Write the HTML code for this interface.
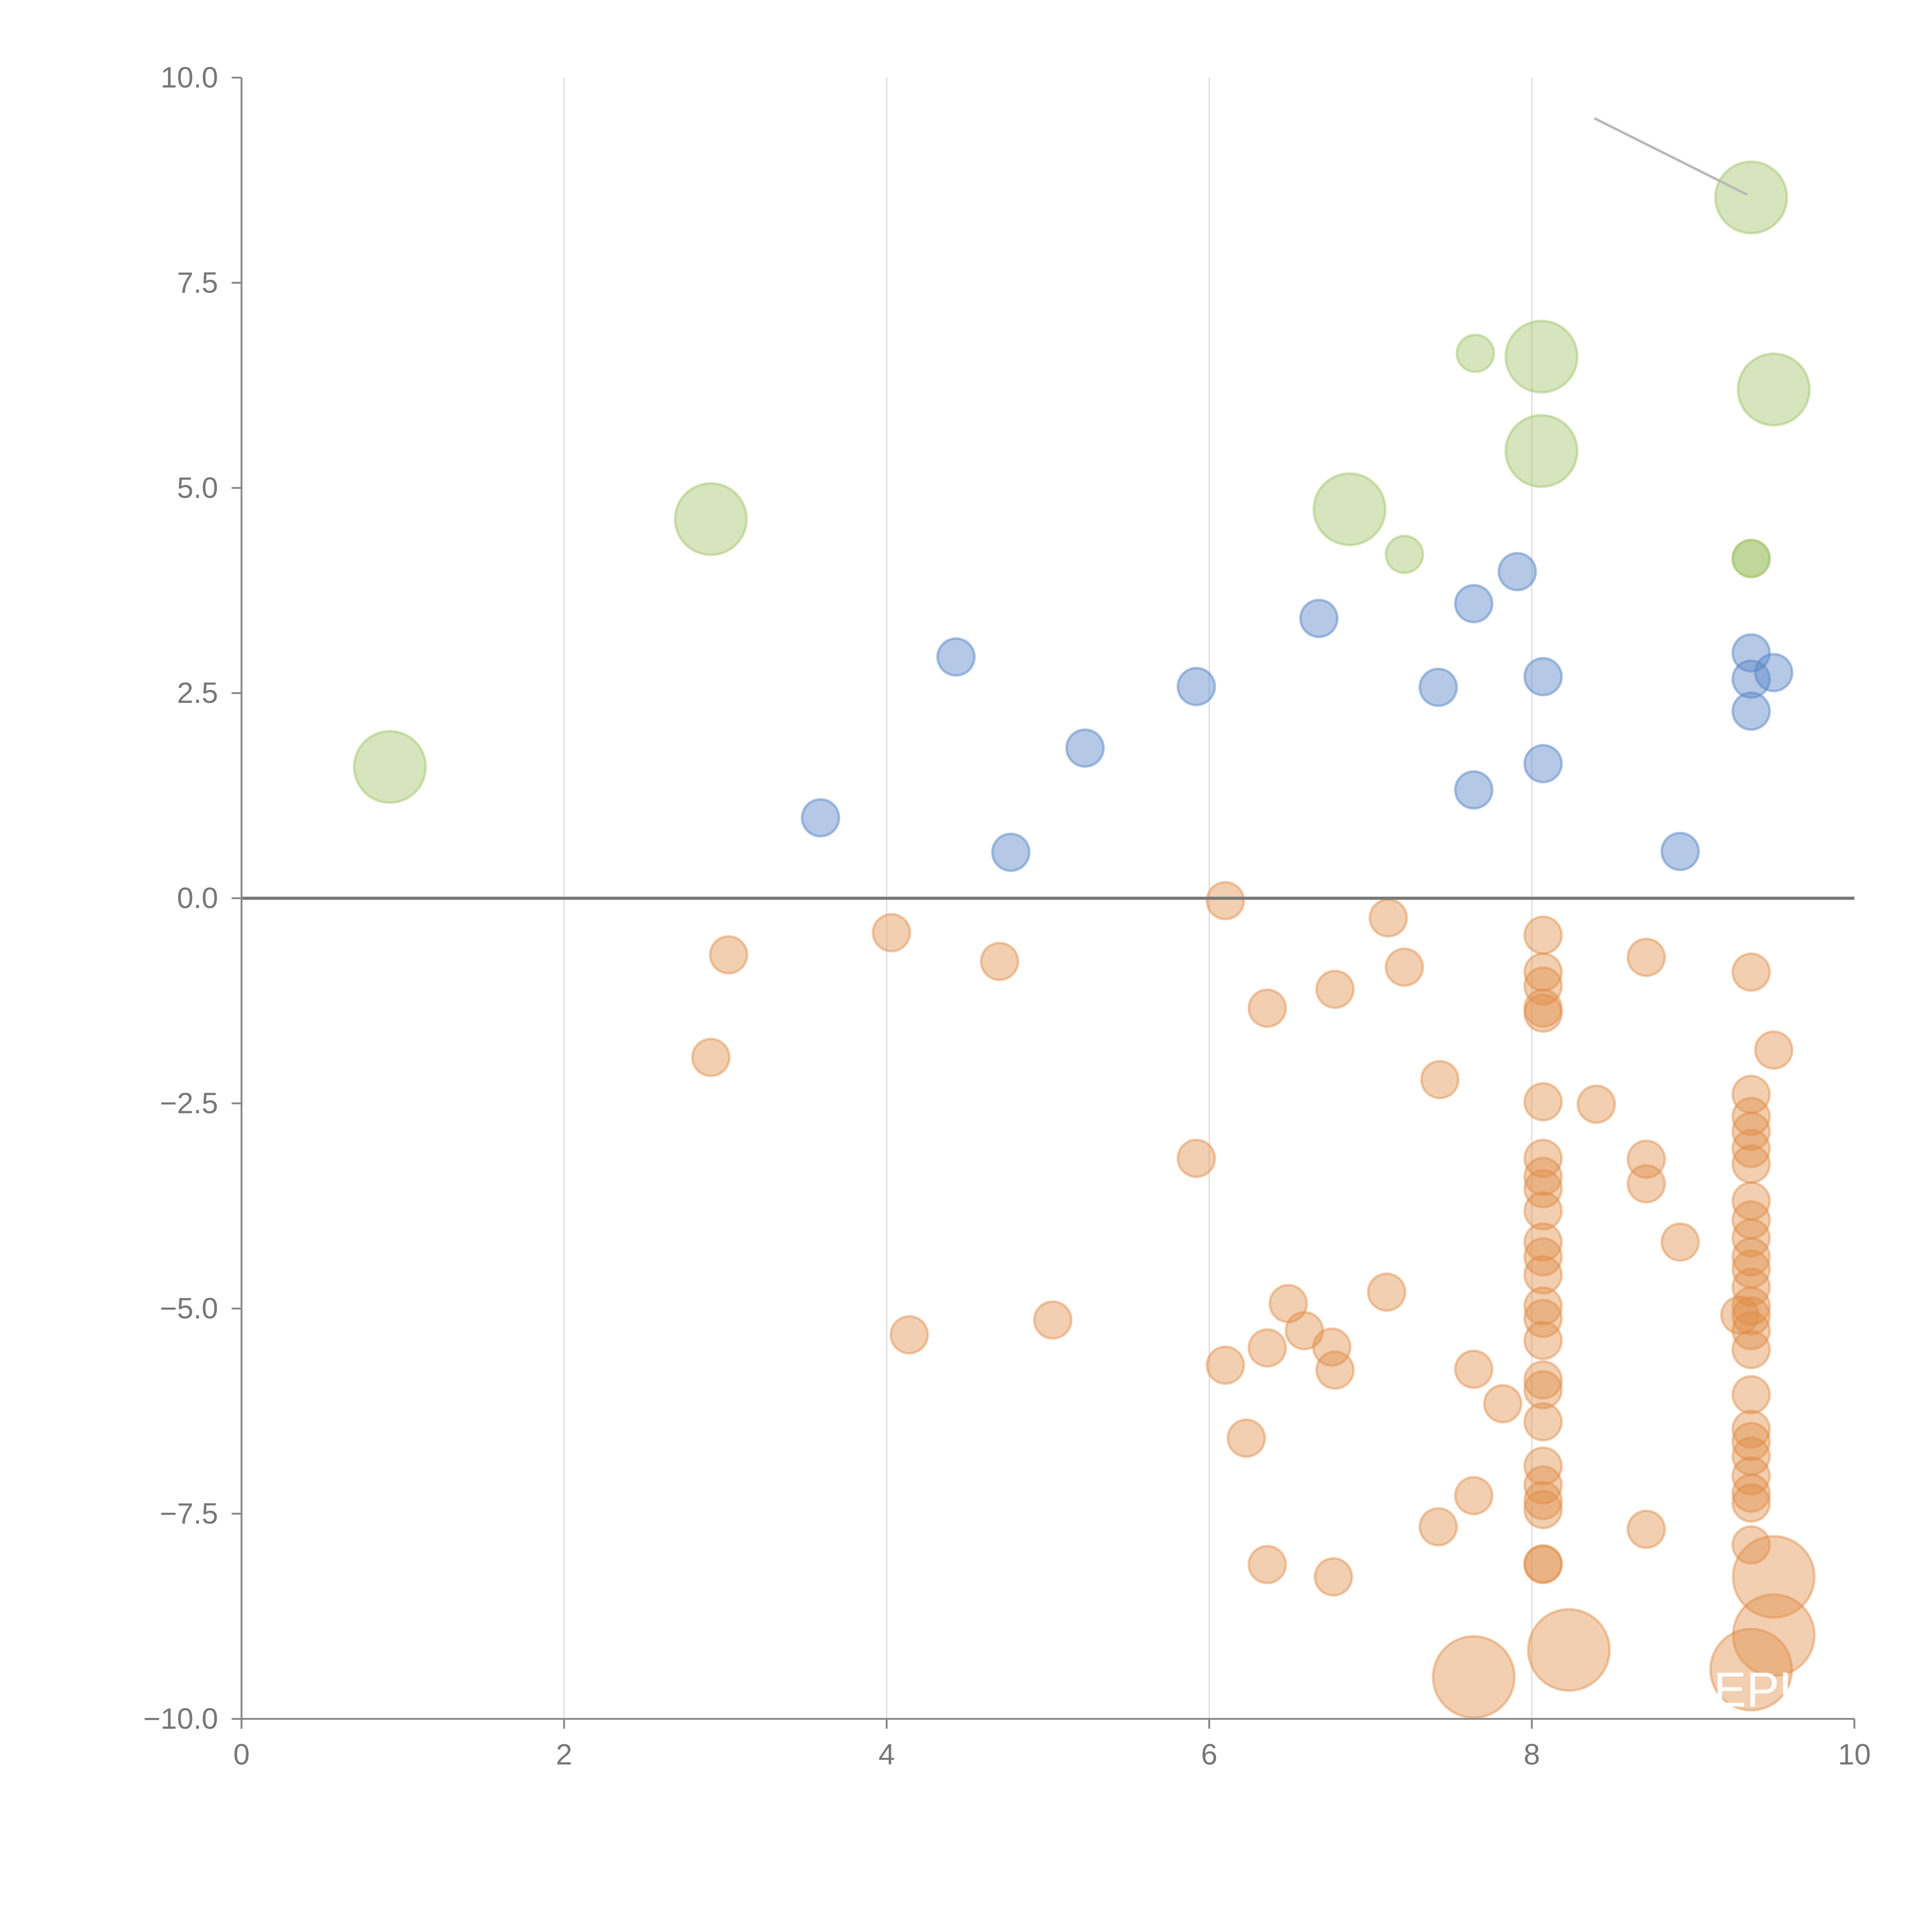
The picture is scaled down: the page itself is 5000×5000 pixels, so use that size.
<!DOCTYPE html>
<html><head><meta charset="utf-8"><style>
html,body{margin:0;padding:0;background:#fff;}
svg{display:block;}
text{font-family:"Liberation Sans",Arial,sans-serif;}
</style></head><body>
<svg id="chart" width="5000" height="5000" viewBox="0 0 1568 1568" xmlns="http://www.w3.org/2000/svg">
<g id="grid"></g>
<g id="marks"></g>
<g id="axes"></g>
</svg>
<script>
const xTicks=[0,2,4,6,8,10];
const yTicks=[-10,-7.5,-5,-2.5,0,2.5,5,7.5,10];
const greenBigX=[0.92,2.91,6.87,8.06,8.06,9.50,9.36];
const greenBigY=[1.60,4.62,4.74,6.60,5.45,6.20,8.54];
const greenSmallX=[7.65,7.21,9.36,9.36];
const greenSmallY=[6.64,4.19,4.14,4.14];
const blueX=[3.59,4.43,4.77,5.23,5.92,6.68,7.42,7.64,7.64,7.91,8.07,8.07,8.92,9.36,9.36,9.50,9.36];
const blueY=[0.98,2.94,0.56,1.83,2.58,3.41,2.57,3.59,1.32,3.98,2.70,1.64,0.57,2.99,2.67,2.75,2.28];
const orangeX=[6.10,3.02,4.03,4.70,2.91,7.11,7.21,6.78,6.36,7.43,8.07,8.07,8.07,8.07,8.07,8.07,8.40,8.71,9.36,9.50,5.92,8.71,8.71,8.92,
8.07,8.07,8.07,8.07,8.07,8.07,8.07,8.07,8.07,8.07,8.07,8.07,8.07,8.07,8.07,8.07,8.07,8.07,
9.36,9.36,9.36,9.36,9.36,9.36,9.36,9.36,9.36,9.36,9.36,9.36,9.36,9.36,9.36,9.36,9.36,9.36,9.36,9.36,9.36,9.36,9.36,9.29,
6.49,7.10,5.03,4.14,6.59,6.76,6.36,6.10,6.78,7.64,7.82,6.23,7.42,7.64,8.71,6.36,6.77,8.07];
const orangeY=[-0.03,-0.69,-0.42,-0.77,-1.94,-0.24,-0.84,-1.11,-1.34,-2.21,-0.45,-0.90,-1.07,-1.34,-1.40,-2.48,-2.51,-0.72,-0.90,-1.85,-3.17,-3.18,-3.48,-4.19,
-3.17,-3.39,-3.54,-3.81,-4.19,-4.37,-4.59,-4.97,-5.12,-5.39,-5.87,-5.99,-6.38,-6.92,-7.15,-7.34,-7.45,-8.11,
-2.39,-2.66,-2.84,-3.05,-3.24,-3.69,-3.92,-4.14,-4.37,-4.52,-4.74,-4.97,-5.09,-5.27,-5.50,-6.05,-6.47,-6.62,-6.80,-7.04,-7.25,-7.37,-7.88,-5.08,
-4.94,-4.80,-5.14,-5.32,-5.27,-5.47,-5.48,-5.69,-5.75,-5.74,-6.16,-6.58,-7.66,-7.28,-7.69,-8.12,-8.27,-8.12];
const orangeBigX=[7.64,8.23,9.50,9.50,9.36];
const orangeBigY=[-9.49,-9.16,-8.27,-8.98,-9.40];

const X0=196,X1=1505,Y0=1395,Y1=63;
const sx=v=>X0+(v-0)/(10-0)*(X1-X0);
const sy=v=>Y0-(v+10)/20*(Y0-Y1);
const NS='http://www.w3.org/2000/svg';
function mk(tag,attrs,parent){const e=document.createElementNS(NS,tag);for(const k in attrs)e.setAttribute(k,attrs[k]);parent.appendChild(e);return e;}
const grid=document.getElementById('grid'),marks=document.getElementById('marks'),axes=document.getElementById('axes');
xTicks.forEach(t=>{if(t>0&&t<10){const l=mk('line',{x1:sx(t),x2:sx(t),y1:Y1,y2:Y0,stroke:'#dcdcdc','stroke-width':1},grid);

}});
function dots(xs,ys,r,fill,stroke,name){xs.forEach((x,i)=>{const c=mk('circle',{cx:sx(x),cy:sy(ys[i]),r:r,fill:fill,stroke:stroke,'stroke-width':2},marks);

});}
dots(greenBigX,greenBigY,29,'rgba(165,198,110,0.45)','rgba(165,198,110,0.5)','green-bubble-large');
dots(greenSmallX,greenSmallY,15,'rgba(165,198,110,0.45)','rgba(165,198,110,0.5)','green-bubble-small');
dots(blueX,blueY,15,'rgba(90,135,200,0.45)','rgba(90,135,200,0.5)','blue-bubble');
dots(orangeX,orangeY,15,'rgba(225,140,70,0.42)','rgba(225,140,70,0.45)','orange-bubble');
dots(orangeBigX,orangeBigY,33,'rgba(225,140,70,0.42)','rgba(225,140,70,0.45)','orange-bubble-large');
const ann=mk('line',{x1:1294,y1:96,x2:1418,y2:158,stroke:'#b8b8b8','stroke-width':2},marks);


const wt=mk('text',{x:1364,y:1385,'font-size':40,fill:'#fff'},marks);wt.textContent='AEPU';


const z=mk('line',{x1:X0,x2:X1,y1:sy(0),y2:sy(0),stroke:'#777','stroke-width':2.5},axes);


const ya=mk('line',{x1:X0,x2:X0,y1:Y1,y2:Y0+8,stroke:'#888','stroke-width':1.5},axes);


const xa=mk('line',{x1:X0-8,x2:X1,y1:Y0,y2:Y0,stroke:'#888','stroke-width':1.5},axes);


xTicks.forEach(t=>{const tk=mk('line',{x1:sx(t),x2:sx(t),y1:Y0,y2:Y0+8,stroke:'#888','stroke-width':1.5},axes);


const tx=mk('text',{x:sx(t),y:Y0+37,'font-size':24,fill:'#777','text-anchor':'middle'},axes);tx.textContent=String(t);

});
yTicks.forEach(t=>{const tk=mk('line',{x1:X0-8,x2:X0,y1:sy(t),y2:sy(t),stroke:'#888','stroke-width':1.5},axes);


const tx=mk('text',{x:X0-19,y:sy(t)+8,'font-size':24,fill:'#777','text-anchor':'end'},axes);tx.textContent=(t<0?'\u2212':'')+Math.abs(t).toFixed(1);

});
</script>
</body></html>
